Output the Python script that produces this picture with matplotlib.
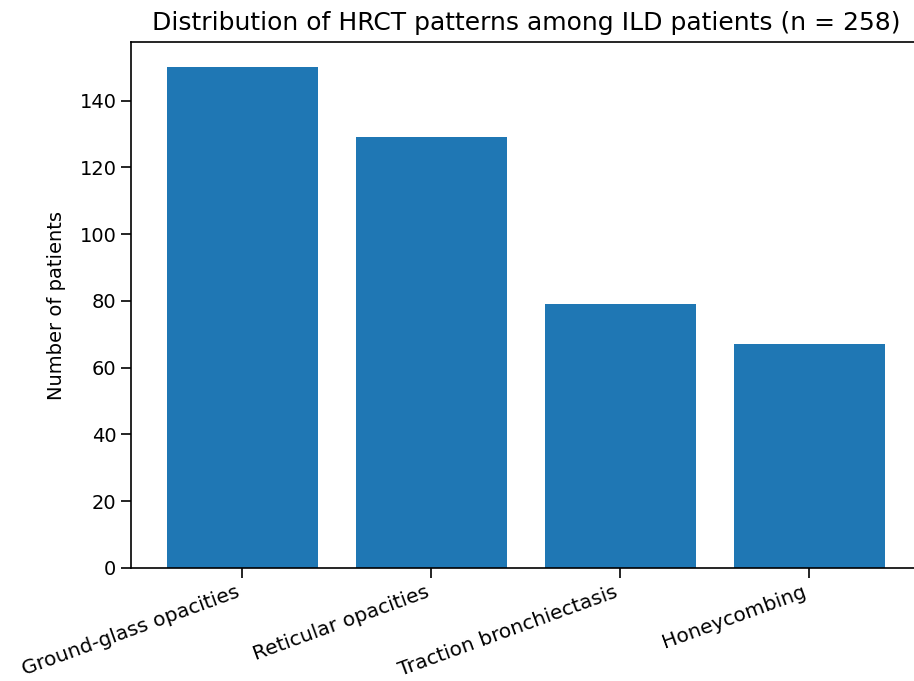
import matplotlib
matplotlib.use("Agg")
import matplotlib.pyplot as plt

# HRCT patterns and patient counts
patterns = ["Ground-glass opacities", "Reticular opacities",
            "Traction bronchiectasis", "Honeycombing"]
counts = [150, 129, 79, 67]
yticks = [0, 20, 40, 60, 80, 100, 120, 140]

fig = plt.figure(figsize=(9.14, 6.81), dpi=100)
# right spine falls just outside the picture, as in the reference
ax = fig.add_axes([0.1433, 0.166, 0.864, 0.772])

ax.bar(patterns, counts, color="#1f77b4", width=0.8)
ax.set_yticks(yticks)
ax.tick_params(axis="both", labelsize=14, length=7, width=1.2)
for s in ax.spines.values():
    s.set_linewidth(1.2)
ax.spines["right"].set_visible(False)
plt.setp(ax.get_xticklabels(), rotation=20, ha="right", fontsize=14.5)
ax.set_ylabel("Number of patients", fontsize=14, labelpad=10)
ax.set_title("Distribution of HRCT patterns among ILD patients (n = 258)",
             fontsize=18, pad=9)

fig.savefig("out.png", dpi=100)
